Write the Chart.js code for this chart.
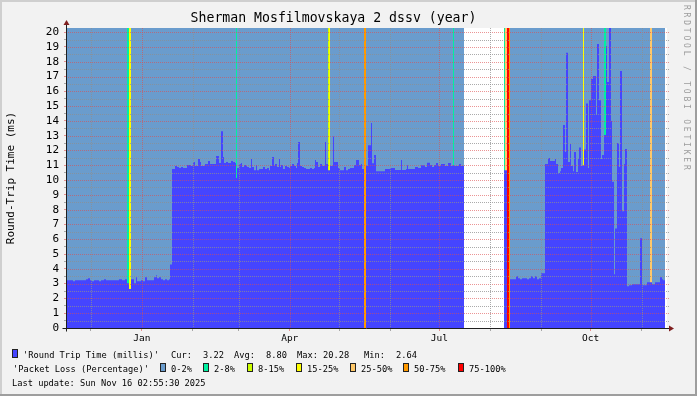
<!DOCTYPE html>
<html>
<head>
<meta charset="utf-8">
<script src="https://cdn.jsdelivr.net/npm/chart.js@4.4.1/dist/chart.umd.min.js"></script>
<style>
  body { margin: 0; background: #fff; }
  #wrap { position: relative; width: 697px; height: 396px; background: #f2f2f2; overflow: hidden;
          font-family: 'DejaVu Sans Mono', monospace; color: #000; }
  #wrap canvas { position: absolute; left: 0; top: 0; }
  .shA { position: absolute; background: #cfcfcf; }
  .shB { position: absolute; background: #9e9e9e; }
  .lg { position: absolute; font-size: 8.7px; line-height: 10px; white-space: pre; }
  .box { position: absolute; width: 4px; height: 7px; border: 1px solid #222; }
  #mark { position: absolute; left: 682px; top: 5px; writing-mode: vertical-rl; font-size: 8px;
          letter-spacing: 2.8px; color: #9c9c9c; white-space: pre; }
</style>
</head>
<body>
<div id="wrap">
  <canvas id="chart" width="697" height="396"></canvas>
  <div class="shA" style="left:0;top:0;width:697px;height:2px"></div>
  <div class="shA" style="left:0;top:0;width:2px;height:396px"></div>
  <div class="shB" style="left:0;top:394px;width:697px;height:2px"></div>
  <div class="shB" style="left:695px;top:0;width:2px;height:396px"></div>
  <div id="mark">RRDTOOL / TOBI OETIKER</div>
  <div id="legend"></div>
</div>
<script>
// rrd columns: 600 steps per year, x = column index from graph start
var START = Date.UTC(2024, 10, 16, 12, 0);
var STEP_MS = 365 * 86400000 / 600;
var DATA_END = 598;
var TOP = 20.28;

var tickMonths = ['2024-12', '2025-01', '2025-02', '2025-03', '2025-04', '2025-05',
                  '2025-06', '2025-07', '2025-08', '2025-09', '2025-10', '2025-11'];
var tickLabels = ['', 'Jan', '', '', 'Apr', '', '', 'Jul', '', '', 'Oct', ''];

// round trip time (ms), each value holds from its start column to the next one
var rttStart = [0, 6, 8, 19, 21, 23, 25, 27, 32, 34, 37, 39, 52, 55, 58, 60, 62, 64, 67, 69,
  70, 74, 76, 78, 80, 87, 89, 90, 92, 94, 96, 98, 100, 102, 103, 105, 108, 110, 112, 114,
  116, 120, 124, 126, 128, 131, 133, 134, 138, 141, 143, 149, 152, 154, 156, 157, 159, 161, 164, 166,
  168, 169, 170, 172, 174, 175, 177, 179, 180, 182, 184, 185, 187, 189, 190, 192, 196, 198, 200, 202,
  203, 205, 207, 208, 210, 212, 213, 214, 216, 218, 220, 222, 223, 225, 227, 229, 230, 231, 233, 235,
  237, 239, 243, 245, 247, 248, 249, 251, 253, 255, 258, 259, 261, 263, 266, 267, 271, 273, 277, 279,
  281, 283, 287, 289, 292, 294, 295, 297, 299, 301, 304, 305, 307, 309, 318, 323, 328, 334, 335, 339,
  340, 341, 348, 351, 354, 358, 360, 363, 365, 367, 369, 371, 374, 378, 381, 384, 386, 387, 392, 394,
  397, 437, 440, 443, 449, 451, 453, 455, 460, 462, 464, 466, 468, 470, 472, 474, 478, 481, 483, 488,
  489, 491, 493, 494, 496, 498, 499, 501, 503, 504, 506, 507, 509, 511, 512, 514, 516, 517, 519, 521,
  522, 524, 526, 529, 530, 532, 534, 535, 537, 539, 540, 542, 544, 545, 547, 548, 550, 552, 553, 555,
  557, 558, 560, 562, 565, 573, 575, 580, 583, 585, 588, 593, 595, 596];
var rttValue = [3.23, 3.16, 3.23, 3.30, 3.37, 3.23, 3.16, 3.23, 3.16, 3.23, 3.30, 3.23, 3.30, 3.23, 3.30, 3.03, 2.64, 3.30, 3.03, 3.43,
  3.16, 3.23, 3.16, 3.43, 3.23, 3.43, 3.57, 3.37, 3.43, 3.30, 3.23, 3.30, 3.23, 3.30, 4.30, 10.74, 10.95, 10.88, 10.81, 10.88,
  10.81, 11.02, 10.95, 11.22, 10.95, 11.42, 11.22, 10.95, 11.08, 11.29, 11.08, 11.63, 11.15, 13.30, 11.56, 11.15, 11.22, 11.15, 11.29, 11.22,
  11.15, 10.14, 10.81, 11.08, 11.15, 10.88, 11.02, 10.95, 10.88, 10.81, 11.42, 10.88, 10.67, 11.02, 10.67, 10.74, 10.88, 10.74, 10.81, 10.67,
  10.95, 11.56, 10.95, 11.08, 10.88, 11.42, 10.88, 11.02, 10.74, 10.95, 10.88, 10.81, 10.95, 11.08, 10.95, 10.81, 11.15, 12.57, 10.95, 10.88,
  10.81, 10.74, 10.81, 10.74, 10.81, 11.36, 11.22, 10.88, 11.08, 10.95, 12.57, 11.08, 10.67, 10.95, 12.95, 11.22, 10.81, 10.67, 10.88, 10.67,
  10.74, 10.81, 11.02, 11.36, 11.02, 11.08, 10.74, 0, 10.97, 12.36, 13.86, 11.13, 11.69, 10.60, 10.75, 10.81, 10.68, 11.35, 10.68, 10.75,
  11.00, 10.75, 10.88, 10.81, 11.00, 10.88, 11.17, 11.02, 10.88, 11.02, 11.15, 10.95, 11.08, 10.95, 11.15, 10.95, 11.00, 10.95, 11.08, 10.95,
  null, 10.67, 0, 3.30, 3.50, 3.37, 3.30, 3.37, 3.30, 3.37, 3.50, 3.37, 3.50, 3.30, 3.37, 3.70, 11.08, 11.50, 11.29, 11.42,
  11.08, 10.47, 10.60, 10.81, 13.72, 11.89, 18.60, 11.22, 12.44, 10.95, 10.60, 11.89, 10.54, 11.42, 12.20, 10.95, 11.00, 12.07, 15.18, 10.81,
  15.40, 16.83, 17.04, 14.40, 19.20, 15.40, 11.42, 11.70, 13.04, 19.07, 16.63, 20.28, 14.00, 9.89, 3.64, 6.73, 12.50, 10.88, 17.38, 7.90,
  11.08, 12.10, 2.82, 2.89, 2.96, 6.07, 2.89, 3.09, 3.09, 2.96, 3.09, 3.43, 3.30, 3.22];

// packet loss columns above 2% (band index into lossNames)
var lossFrom = [60, 62, 169, 261, 262, 297, 386, 437, 438, 440, 442, 516, 537, 583];
var lossTo   = [62, 64, 170, 262, 263, 299, 387, 438, 440, 442, 443, 517, 539, 585];
var lossBand = [1, 3, 1, 2, 3, 5, 1, 1, 4, 6, 5, 3, 1, 4];

var lossNames  = ['0-2%', '2-8%', '8-15%', '15-25%', '25-50%', '50-75%', '75-100%'];
var lossColors = ['#6a9ccd', '#00f0a0', '#ccff00', '#ffff00', '#ffc868', '#ff9900', '#ff0000'];
var rttColor = '#4545ff';

var GRID = 'rgba(143,143,143,0.75)';
var MGRID = 'rgba(222,79,79,0.6)';

var tickCols = tickMonths.map(function(m) {
  return (Date.parse(m + '-01T00:00:00Z') - START) / STEP_MS;
});

function stepPoints(starts, values) {
  var pts = [];
  for (var i = 0; i < starts.length; i++) {
    var end = i + 1 < starts.length ? starts[i + 1] : DATA_END;
    if (values[i] === null) {
      pts.push({x: starts[i], y: null});
      continue;
    }
    pts.push({x: starts[i], y: values[i]});
    pts.push({x: end, y: values[i]});
  }
  return pts;
}

function bandPoints(b) {
  var pts = [];
  for (var i = 0; i < lossFrom.length; i++) {
    if (lossBand[i] !== b) continue;
    pts.push({x: lossFrom[i], y: TOP});
    pts.push({x: lossTo[i], y: TOP});
    pts.push({x: lossTo[i], y: null});
  }
  return pts;
}

function area(label, pts, color, order) {
  return {
    label: label, data: pts, order: order,
    backgroundColor: color, borderColor: 'transparent', borderWidth: 0,
    pointRadius: 0, fill: 'origin', tension: 0, spanGaps: false
  };
}

var datasets = [area('Round Trip Time (millis)', stepPoints(rttStart, rttValue), rttColor, 0)];
for (var b = 6; b >= 1; b--) {
  datasets.push(area(lossNames[b], bandPoints(b), lossColors[b], 7 - b));
}
datasets.push(area(lossNames[0], stepPoints(rttStart, rttValue.map(function(v) {
  return v === null ? null : TOP;
})), lossColors[0], 10));

// rrdtool draws its dotted grid over the graph: paint it dot by dot at the very end
function dotRow(ctx, y, x1, x2, color) {
  ctx.fillStyle = color;
  for (var x = x1; x <= x2; x += 2) ctx.fillRect(x, y, 1, 1);
}
function dotCol(ctx, x, y1, y2, color) {
  ctx.fillStyle = color;
  for (var y = y1; y <= y2; y += 2) ctx.fillRect(x, y, 1, 1);
}

var rrdFrame = {
  id: 'rrdFrame',
  beforeDraw: function(chart) {
    var ctx = chart.ctx, a = chart.chartArea;
    ctx.save();
    ctx.fillStyle = '#ffffff';
    ctx.fillRect(a.left, a.top, a.right - a.left, a.bottom - a.top);
    ctx.restore();
  },
  afterDraw: function(chart) {
    var ctx = chart.ctx, a = chart.chartArea;
    var xs = chart.scales.x, ys = chart.scales.y;
    var left = Math.round(a.left), right = Math.round(a.right);
    var top = Math.round(a.top), bottom = Math.round(a.bottom);
    ctx.save();
    ctx.globalCompositeOperation = 'source-over';
    ctx.setLineDash([]);
    for (var v = 0.5; v <= 20; v += 0.5) {
      var y = Math.round(ys.getPixelForValue(v));
      dotRow(ctx, y, left + 1, right + 2, v % 1 === 0 ? MGRID : GRID);
    }
    xs.ticks.forEach(function(t, i) {
      var x = Math.round(xs.getPixelForValue(t.value));
      dotCol(ctx, x, top, bottom - 1, tickLabels[i] ? MGRID : GRID);
    });

    var x0 = a.left - 0.5, y0 = a.bottom + 0.5;
    ctx.strokeStyle = '#1f1f1f';
    ctx.lineWidth = 1;
    ctx.beginPath();
    ctx.moveTo(x0, y0 + 3); ctx.lineTo(x0, a.top - 4);
    ctx.moveTo(x0 - 4, y0); ctx.lineTo(a.right + 3, y0);
    ctx.stroke();
    ctx.fillStyle = '#7f1f1f';
    ctx.beginPath();
    ctx.moveTo(x0 - 3, a.top - 3); ctx.lineTo(x0 + 3, a.top - 3); ctx.lineTo(x0, a.top - 8);
    ctx.closePath(); ctx.fill();
    ctx.beginPath();
    ctx.moveTo(a.right + 2, y0 - 3); ctx.lineTo(a.right + 2, y0 + 3); ctx.lineTo(a.right + 7, y0);
    ctx.closePath(); ctx.fill();
    ctx.restore();
  }
};

var monoFont = 'DejaVu Sans Mono';

new Chart('chart', {
  type: 'line',
  data: {datasets: datasets},
  plugins: [rrdFrame],
  options: {
    responsive: false,
    animation: false,
    events: [],
    layout: {padding: {left: 0, right: 30, top: 0, bottom: 0}},
    plugins: {
      legend: {display: false},
      tooltip: {enabled: false},
      title: {
        display: true,
        text: 'Sherman Mosfilmovskaya 2 dssv (year)',
        color: '#000',
        font: {family: monoFont, size: 13.2, weight: 'normal', lineHeight: 1.2},
        padding: {top: 11, bottom: 1.16}
      }
    },
    scales: {
      x: {
        type: 'linear', min: 0, max: 600,
        afterBuildTicks: function(scale) {
          scale.ticks = tickCols.map(function(v) { return {value: v}; });
        },
        afterFit: function(scale) { scale.height = 68; },
        ticks: {
          autoSkip: false, maxRotation: 0, padding: 2, color: '#000',
          font: {family: monoFont, size: 9.5},
          callback: function(value, index) { return tickLabels[index]; }
        },
        grid: {
          drawOnChartArea: false,
          tickColor: function(ctx) { return tickLabels[ctx.index] ? MGRID : GRID; },
          tickLength: 3, lineWidth: 1
        },
        border: {display: false}
      },
      y: {
        type: 'linear', min: 0, max: TOP,
        afterBuildTicks: function(scale) {
          var t = [];
          for (var v = 0; v <= 20; v += 0.5) t.push({value: v});
          scale.ticks = t;
        },
        afterFit: function(scale) { scale.width = 67; },
        ticks: {
          autoSkip: false, padding: 5, color: '#000',
          font: {family: monoFont, size: 11},
          callback: function(value) { return value % 1 === 0 ? String(value) : ''; }
        },
        grid: {
          drawOnChartArea: false,
          tickColor: function(ctx) { return ctx.tick && ctx.tick.value % 1 === 0 ? MGRID : GRID; },
          tickLength: 3, lineWidth: 1
        },
        border: {display: false},
        title: {
          display: true, text: 'Round-Trip Time (ms)', color: '#000',
          font: {family: monoFont, size: 11, lineHeight: 1.2},
          padding: {top: 5, bottom: 0}
        }
      }
    }
  }
});

// legend below the graph, rrdtool style
var legend = document.getElementById('legend');
function addText(x, y, text) {
  var d = document.createElement('div');
  d.className = 'lg';
  d.style.left = x + 'px';
  d.style.top = y + 'px';
  d.textContent = text;
  legend.appendChild(d);
}
function addBox(x, y, color) {
  var d = document.createElement('div');
  d.className = 'box';
  d.style.left = x + 'px';
  d.style.top = y + 'px';
  d.style.background = color;
  legend.appendChild(d);
}
addBox(12, 349, rttColor);
addText(23, 350, "'Round Trip Time (millis)'");
addText(171, 350, 'Cur:');
addText(203, 350, '3.22');
addText(234, 350, 'Avg:');
addText(266, 350, '8.80');
addText(297, 350, 'Max:');
addText(323, 350, '20.28');
addText(364, 350, 'Min:');
addText(396, 350, '2.64');

addText(13, 364, "'Packet Loss (Percentage)'");
var lossBoxX = [160, 203, 247, 296, 350, 403, 458];
for (var i = 0; i < lossNames.length; i++) {
  addBox(lossBoxX[i], 363, lossColors[i]);
  addText(lossBoxX[i] + 11, 364, lossNames[i]);
}
addText(12, 378, 'Last update: Sun Nov 16 02:55:30 2025');
</script>
</body>
</html>
